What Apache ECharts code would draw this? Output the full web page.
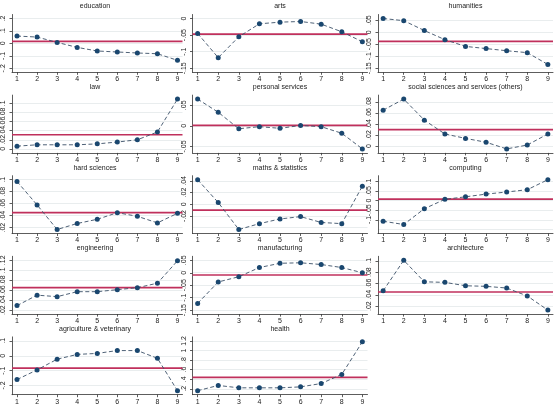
<!DOCTYPE html>
<html>
<head>
<meta charset="utf-8">
<script src="https://cdn.jsdelivr.net/npm/echarts@6/dist/echarts.min.js"></script>
<style>
html, body { margin: 0; padding: 0; background: #fff; }
#chart { width: 557px; height: 408px; }
</style>
</head>
<body>
<div id="chart"></div>
<script>
// x axis: cohorts 1..9
const cohorts = [1, 2, 3, 4, 5, 6, 7, 8, 9];

// values per field
const education = [0.059, 0.051, 0.008, -0.032, -0.061, -0.069, -0.077, -0.083, -0.136];
const arts = [-0.045, -0.118, -0.055, -0.016, -0.011, -0.009, -0.017, -0.040, -0.070];
const humanities = [0.057, 0.048, 0.007, -0.031, -0.059, -0.068, -0.077, -0.085, -0.134];
const law = [0.006, 0.009, 0.009, 0.009, 0.011, 0.015, 0.020, 0.037, 0.109];
const personalServices = [0.065, 0.033, -0.007, -0.002, -0.006, 0.001, -0.002, -0.018, -0.056];
const socialSciences = [0.065, 0.085, 0.047, 0.022, 0.014, 0.007, -0.005, 0.002, 0.022];
const hardSciences = [0.097, 0.058, 0.017, 0.027, 0.034, 0.045, 0.039, 0.028, 0.044];
const maths = [0.042, 0.003, -0.043, -0.033, -0.025, -0.021, -0.031, -0.033, 0.031];
const computing = [-0.107, -0.124, -0.042, 0.007, 0.020, 0.034, 0.045, 0.057, 0.109];
const engineering = [0.029, 0.050, 0.047, 0.057, 0.057, 0.061, 0.065, 0.074, 0.119];
const manufacturing = [-0.123, -0.037, -0.016, 0.021, 0.038, 0.040, 0.033, 0.021, 0.000];
const architecture = [0.047, 0.101, 0.063, 0.062, 0.056, 0.055, 0.052, 0.038, 0.013];
const agriculture = [-0.16, -0.095, -0.023, 0.009, 0.016, 0.035, 0.035, -0.017, -0.235];
const health = [0.16, 0.27, 0.22, 0.22, 0.22, 0.24, 0.31, 0.50, 1.18];

// red reference line for each panel
const refLines = [0.016, -0.047, -0.038, 0.031, 0.001, 0.030, 0.045, -0.010, 0.008, 0.065, -0.009, 0.045, -0.083, 0.44];

// y tick labels per panel
const educationTicks = [-0.2, -0.1, 0, 0.1, 0.2];
const artsTicks = [-0.15, -0.1, -0.05, 0];
const humanitiesTicks = [-0.15, -0.1, -0.05, 0, 0.05];
const lawTicks = [0, 0.02, 0.04, 0.06, 0.08, 0.1];
const personalTicks = [-0.05, 0, 0.05];
const socialTicks = [0, 0.02, 0.04, 0.06, 0.08];
const hardTicks = [0.02, 0.04, 0.06, 0.08, 0.1];
const mathsTicks = [-0.04, -0.02, 0, 0.02, 0.04];
const computingTicks = [-0.15, -0.1, -0.05, 0, 0.05, 0.1];
const engineeringTicks = [0.02, 0.04, 0.06, 0.08, 0.1, 0.12];
const manufacturingTicks = [-0.15, -0.1, -0.05, 0, 0.05];
const architectureTicks = [0.02, 0.04, 0.06, 0.08, 0.1];
const agricultureTicks = [-0.2, -0.1, 0, 0.1];
const healthTicks = [0.2, 0.4, 0.6, 0.8, 1, 1.2];

const titles = ['education', 'arts', 'humanities', 'law', 'personal services',
	'social sciences and services (others)', 'hard sciences', 'maths & statistics',
	'computing', 'engineering', 'manufacturing', 'architecture',
	'agriculture & veterinary', 'health'];
const panelValues = [education, arts, humanities, law, personalServices, socialSciences,
	hardSciences, maths, computing, engineering, manufacturing, architecture, agriculture, health];
const panelTicks = [educationTicks, artsTicks, humanitiesTicks, lawTicks, personalTicks, socialTicks,
	hardTicks, mathsTicks, computingTicks, engineeringTicks, manufacturingTicks, architectureTicks,
	agricultureTicks, healthTicks];

// layout
const colLeft = [7.5, 192.5, 378];
const plotW = 175, plotH = 57.8;
const rowTop = 14.5, rowStep = 80.6;
const xMin = 0.75, xMax = 9.25;
const font = 'Liberation Sans, Arial, sans-serif';

function fmt(v) {
	let s = String(Math.round(v * 1000) / 1000);
	return s.replace(/^0\./, '.').replace(/^-0\./, '-.');
}

const option = { animation: false, backgroundColor: '#fff', title: [], grid: [], xAxis: [], yAxis: [], series: [] };

titles.forEach(function (name, i) {
	const col = i % 3, row = Math.floor(i / 3);
	const top = rowTop + row * rowStep;
	const vals = panelValues[i], ticks = panelTicks[i];
	const all = vals.concat(ticks, [refLines[i]]);
	const lo = Math.min.apply(null, all), hi = Math.max.apply(null, all);
	const pad = (hi - lo) * 4 / (plotH - 8);

	option.title.push({
		text: name, left: colLeft[col] + plotW / 2, top: top - 11.5, textAlign: 'center', padding: 0,
		textStyle: { fontSize: 7, fontWeight: 'normal', color: '#222', fontFamily: font }
	});
	option.grid.push({ left: colLeft[col], top: top, width: plotW, height: plotH, containLabel: false });
	option.xAxis.push({
		type: 'value', gridIndex: i, min: xMin, max: xMax,
		axisLine: { show: true, onZero: false, lineStyle: { color: '#333', width: 0.8 } },
		axisTick: { show: true, length: 2.5, customValues: cohorts, lineStyle: { color: '#333', width: 0.8 } },
		axisLabel: { customValues: cohorts, fontSize: 7, margin: 3.5, color: '#222', fontFamily: font },
		splitLine: { show: false }
	});
	option.yAxis.push({
		type: 'value', gridIndex: i, min: lo - pad, max: hi + pad,
		axisLine: { show: true, onZero: false, lineStyle: { color: '#333', width: 0.8 } },
		axisTick: { show: true, length: 2.5, customValues: ticks, lineStyle: { color: '#333', width: 0.8 } },
		axisLabel: { customValues: ticks, rotate: 90, fontSize: 7, margin: 5, color: '#222', fontFamily: font, formatter: fmt },
		splitLine: { show: true, lineStyle: { color: '#e3e8ea', width: 0.8 } }
	});
	// red reference line across the panel
	option.series.push({
		type: 'line', xAxisIndex: i, yAxisIndex: i, silent: true,
		data: [[xMin, refLines[i]], [xMax, refLines[i]]],
		symbol: 'none', clip: false,
		lineStyle: { color: '#c0305c', width: 1.7, type: 'solid' },
		itemStyle: { color: '#c0305c' },
		z: 2
	});
	option.series.push({
		type: 'line', xAxisIndex: i, yAxisIndex: i,
		data: cohorts.map(function (c, k) { return [c, vals[k]]; }),
		symbol: 'circle', symbolSize: 5,
		itemStyle: { color: '#1a476f' },
		lineStyle: { color: '#3b5068', width: 0.9, type: [4, 2.5] },
		z: 3
	});
});

const myChart = echarts.init(document.getElementById('chart'));
myChart.setOption(option);
</script>
</body>
</html>
